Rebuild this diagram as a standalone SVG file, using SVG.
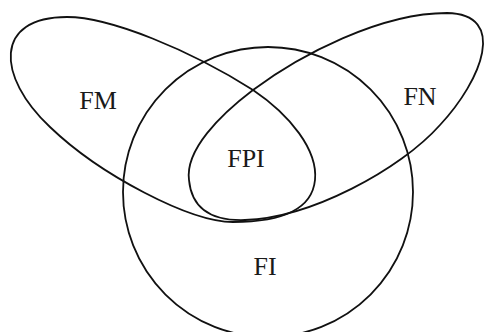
<svg xmlns="http://www.w3.org/2000/svg" width="487" height="332" viewBox="0 0 487 332">
<style>
.s{fill:none;stroke:#111;stroke-width:1.8;stroke-linejoin:round}
.t{font-family:"Liberation Serif","Times New Roman",serif;font-size:26px;fill:#1a1a1a;text-anchor:middle}
</style>
<rect width="487" height="332" fill="#fff"/>
<g id="FI">
<circle class="s" cx="268" cy="192" r="145"/>
<text class="t" x="265" y="275">FI</text>
</g>
<g id="FM">
<path class="s" d="M67,17 C110,17 190,50 253,90 C290,115 318,150 315,180 C312,210 280,222 233,222 C190,222 100,175 50,127 C-4,76 -6,17 67,17 Z"/>
<text class="t" x="98" y="109">FM</text>
</g>
<g id="FN">
<path class="s" d="M447,13 C380,13 300,55 253,90 C220,115 185,150 189,180 C192,212 215,221 245,220 C310,218 400,170 440,125 C482,80 508,14 447,13 Z"/>
<text class="t" x="420" y="105">FN</text>
</g>
<g id="FPI">
<text class="t" x="246" y="167">FPI</text>
</g>
</svg>
